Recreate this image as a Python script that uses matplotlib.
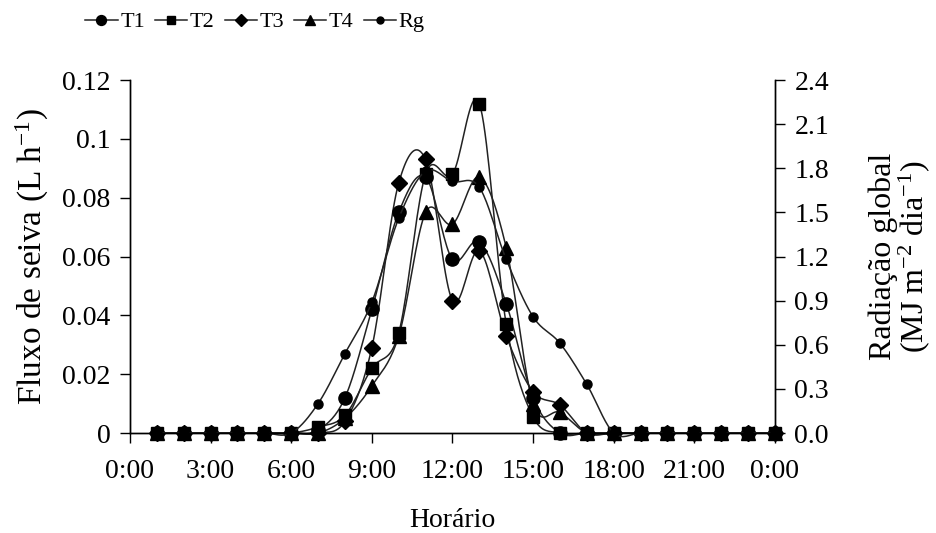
import numpy as np
import matplotlib.pyplot as plt
from matplotlib.ticker import FormatStrFormatter, FuncFormatter

plt.rcParams['font.family'] = 'Liberation Serif'
plt.rcParams['mathtext.fontset'] = 'custom'
plt.rcParams['mathtext.rm'] = 'Liberation Serif'
plt.rcParams['mathtext.it'] = 'Liberation Serif'
plt.rcParams['font.size'] = 20

# Data: hourly values (hour 1..24)
hours = np.arange(1, 25)
T1 = [0, 0, 0, 0, 0, 0, 0.001, 0.012, 0.042, 0.075, 0.087, 0.059,
      0.065, 0.044, 0.012, 0, 0, 0, 0, 0, 0, 0, 0, 0]
T2 = [0, 0, 0, 0, 0, 0, 0.002, 0.006, 0.022, 0.034, 0.088, 0.088,
      0.112, 0.037, 0.0055, 0, 0, 0, 0, 0, 0, 0, 0, 0]
T3 = [0, 0, 0, 0, 0, 0, 0, 0.004, 0.029, 0.085, 0.093, 0.045,
      0.062, 0.033, 0.014, 0.0095, 0, 0, 0, 0, 0, 0, 0, 0]
T4 = [0, 0, 0, 0, 0, 0, 0, 0.005, 0.016, 0.033, 0.075, 0.071,
      0.087, 0.063, 0.010, 0.007, 0, 0, 0, 0, 0, 0, 0, 0]
Rg = [0, 0, 0, 0, 0, 0, 0.20, 0.54, 0.89, 1.46, 1.78, 1.71,
      1.67, 1.18, 0.79, 0.61, 0.33, 0, 0, 0, 0, 0, 0, 0]

xtick_labels = ["0:00", "3:00", "6:00", "9:00", "12:00", "15:00", "18:00", "21:00", "0:00"]


def smooth(x, y, n=20):
    # Catmull-Rom style smoothing (like Excel "smoothed line")
    x = np.asarray(x, float)
    y = np.asarray(y, float)
    xs, ys = [], []
    for i in range(len(x) - 1):
        x0, y0 = (x[i - 1], y[i - 1]) if i > 0 else (x[i], y[i])
        x3, y3 = (x[i + 2], y[i + 2]) if i + 2 < len(x) else (x[i + 1], y[i + 1])
        x1, y1, x2, y2 = x[i], y[i], x[i + 1], y[i + 1]
        c1x, c1y = x1 + (x2 - x0) / 6, y1 + (y2 - y0) / 6
        c2x, c2y = x2 - (x3 - x1) / 6, y2 - (y3 - y1) / 6
        t = np.linspace(0, 1, n)
        bx = (1 - t) ** 3 * x1 + 3 * (1 - t) ** 2 * t * c1x + 3 * (1 - t) * t ** 2 * c2x + t ** 3 * x2
        by = (1 - t) ** 3 * y1 + 3 * (1 - t) ** 2 * t * c1y + 3 * (1 - t) * t ** 2 * c2y + t ** 3 * y2
        xs.extend(bx)
        ys.extend(by)
    return np.array(xs), np.array(ys)


fig = plt.figure(figsize=(9.37, 5.33), dpi=100)
ax = fig.add_axes([0.1387, 0.1876, 0.6884, 0.6623])
ax2 = ax.twinx()

line_kw = dict(color="#222222", linewidth=1.1)
series = [("T1", T1, "o", 9.5, ax), ("T2", T2, "s", 8.5, ax),
          ("T3", T3, "D", 8, ax), ("T4", T4, "^", 10, ax)]

handles = []
for name, vals, mk, ms, a in series:
    sx, sy = smooth(hours, vals)
    a.plot(sx, sy, **line_kw, clip_on=False)
    a.plot(hours, vals, linestyle="none", marker=mk, markersize=ms,
           color="black", clip_on=False, zorder=3)
    h, = a.plot([], [], **line_kw, marker=mk, markersize=ms * 0.75,
                markerfacecolor="black", markeredgecolor="black")
    handles.append((h, name))

sx, sy = smooth(hours, Rg)
ax2.plot(sx, sy, **line_kw, clip_on=False)
ax2.plot(hours, Rg, linestyle="none", marker="o", markersize=6.5,
         color="black", clip_on=False, zorder=3)
h, = ax2.plot([], [], **line_kw, marker="o", markersize=5,
              markerfacecolor="black", markeredgecolor="black")
handles.append((h, "Rg"))

# Axes formatting
ax.set_xlim(0, 24)
ax.set_xticks(np.arange(0, 25, 3))
ax.set_xticklabels(xtick_labels)
ax.set_ylim(0, 0.12)
ax.set_yticks(np.arange(0, 0.121, 0.02))
ax.yaxis.set_major_formatter(FuncFormatter(lambda v, p: f"{v:.2f}".rstrip("0").rstrip(".") if v else "0"))
ax2.set_ylim(0, 2.4)
ax2.set_yticks(np.arange(0, 2.41, 0.3))
ax2.yaxis.set_major_formatter(FormatStrFormatter("%.1f"))

for a in (ax, ax2):
    a.spines["top"].set_visible(False)
    a.tick_params(direction="out", length=7, width=1, pad=7)
    for s in a.spines.values():
        s.set_linewidth(1)
ax.tick_params(axis="x", pad=12)

ax.set_xlabel("Horário", labelpad=17)
ax.set_ylabel("Fluxo de seiva (L h$^{-1}$)", labelpad=8, fontsize=24)
ax2.set_ylabel("Radiação global\n(MJ m$^{-2}$ dia$^{-1}$)", labelpad=28,
               linespacing=0.95, fontsize=23)

fig.legend([h for h, n in handles], [n for h, n in handles],
           loc="center", bbox_to_anchor=(255 / 937, 1 - 22 / 533), ncol=5,
           frameon=False, handlelength=1.45, handletextpad=0.12,
           columnspacing=0.45, borderaxespad=0, fontsize=16)

fig.savefig("out.png", dpi=100)
